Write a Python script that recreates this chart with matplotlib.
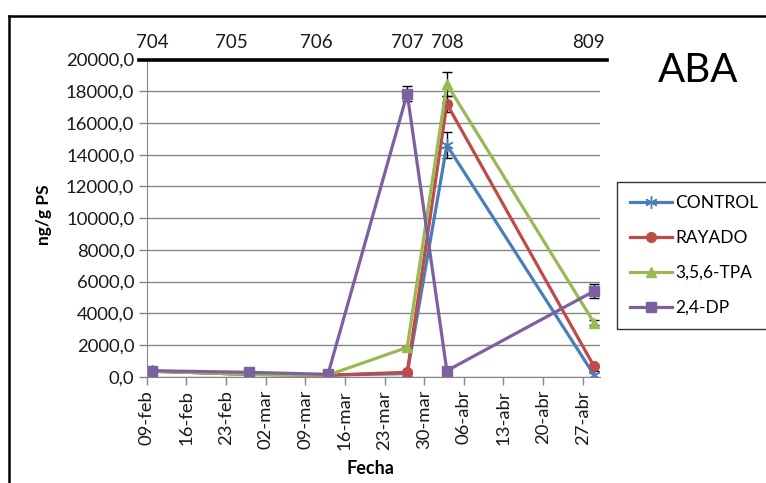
import numpy as np
import matplotlib
matplotlib.use("Agg")
import matplotlib.pyplot as plt
import matplotlib.dates as mdates
from matplotlib.lines import Line2D
from datetime import date, timedelta

plt.rcParams['font.family'] = ['Lato', 'DejaVu Sans']

# fechas de muestreo
fechas = [date(2015, 2, 10), date(2015, 2, 27), date(2015, 3, 13),
          date(2015, 3, 27), date(2015, 4, 3), date(2015, 4, 29)]

control = [350, 150, 100, 200, 14600, 100]
rayado = [350, 150, 100, 280, 17200, 650]
tpa = [350, 150, 100, 1850, 18450, 3400]
dp = [380, 280, 150, 17850, 380, 5400]

err_control = [0, 0, 0, 0, 800, 250]
err_rayado = [0, 0, 0, 0, 500, 0]
err_tpa = [0, 0, 0, 0, 750, 150]
err_dp = [0, 0, 0, 450, 0, 450]

# etiquetas del eje superior (numero de muestra)
top_labels = ['704', '705', '706', '707', '708', '809']
top_fechas = [date(2015, 2, 10), date(2015, 2, 24), date(2015, 3, 11),
              date(2015, 3, 27), date(2015, 4, 3), date(2015, 4, 28)]

tick_fechas = [date(2015, 2, 9) + timedelta(days=7 * i) for i in range(12)]
tick_labels = ['09-feb', '16-feb', '23-feb', '02-mar', '09-mar', '16-mar',
               '23-mar', '30-mar', '06-abr', '13-abr', '20-abr', '27-abr']

series = [('CONTROL', control, err_control, '#4A7EBB', (6, 2, 0), 9),
          ('RAYADO', rayado, err_rayado, '#BE4B48', 'o', 7),
          ('3,5,6-TPA', tpa, err_tpa, '#98B954', '^', 7),
          ('2,4-DP', dp, err_dp, '#7D60A0', 's', 7)]

fig = plt.figure(figsize=(7.66, 4.83), dpi=100)
ax = fig.add_axes([0.1915, 0.22, 0.5915, 0.6568])

grid_col = '#868686'
handles = []
for name, vals, err, col, mk, ms in series:
    ax.errorbar(fechas, vals, yerr=err, color=col, lw=2.3, marker=mk, ms=ms,
                mec=col, mfc=col, ecolor='black', elinewidth=1, capsize=3.5,
                capthick=1)
    handles.append(Line2D([], [], color=col, lw=2.3, marker=mk, ms=ms,
                          mec=col, mfc=col, label=name))

ax.set_ylim(0, 20000)
ax.set_yticks(np.arange(0, 20001, 2000))
ax.set_yticklabels([f'{v:.1f}'.replace('.', ',') for v in np.arange(0, 20001, 2000)])
ax.set_xlim(date(2015, 2, 9), date(2015, 2, 9) + timedelta(days=80))
ax.set_xticks(tick_fechas)
ax.set_xticklabels(tick_labels, rotation=90)
ax.grid(axis='y', color=grid_col, lw=1)
ax.set_axisbelow(True)

ax.spines['right'].set_visible(False)
ax.spines['left'].set_color(grid_col)
ax.spines['bottom'].set_color(grid_col)
ax.spines['top'].set_color('black')
ax.spines['top'].set_linewidth(2.6)
ax.spines['top'].set_bounds(mdates.date2num(date(2015, 2, 9)) - 1.3,
                            mdates.date2num(date(2015, 2, 9)) + 81.3)
ax.tick_params(axis='both', colors=grid_col, length=6, width=1, labelsize=13.3,
               labelcolor='#1a1a1a')
ax.tick_params(axis='y', pad=3)

for lab, f in zip(top_labels, top_fechas):
    ax.text(f, 1.055, lab, transform=ax.get_xaxis_transform(), ha='center',
            va='center', fontsize=13.5, color='#1a1a1a')

fig.text(0.058, 0.555, 'ng/g PS', rotation=90, ha='center', va='center',
         fontsize=12.5, fontweight='bold')
fig.text(0.483, 0.029, 'Fecha', ha='center', va='center',
         fontsize=13, fontweight='bold')
fig.text(0.911, 0.855, 'ABA', ha='center', va='center', fontsize=29)

leg = fig.legend(handles=handles, loc='upper left', bbox_to_anchor=(0.806, 0.624),
                 frameon=True, fancybox=False, fontsize=12.5,
                 handlelength=2.4, handletextpad=0.2, labelspacing=1.1,
                 borderpad=0.75, borderaxespad=0)
leg.get_frame().set_edgecolor('black')
leg.get_frame().set_linewidth(1)

# marco del grafico
fig.add_artist(Line2D([0.012, 0.012], [0.0, 0.967], color='black', lw=1.8))
fig.add_artist(Line2D([0.012, 1.0], [0.967, 0.967], color='black', lw=1.8))

fig.savefig('out.png', dpi=100)
